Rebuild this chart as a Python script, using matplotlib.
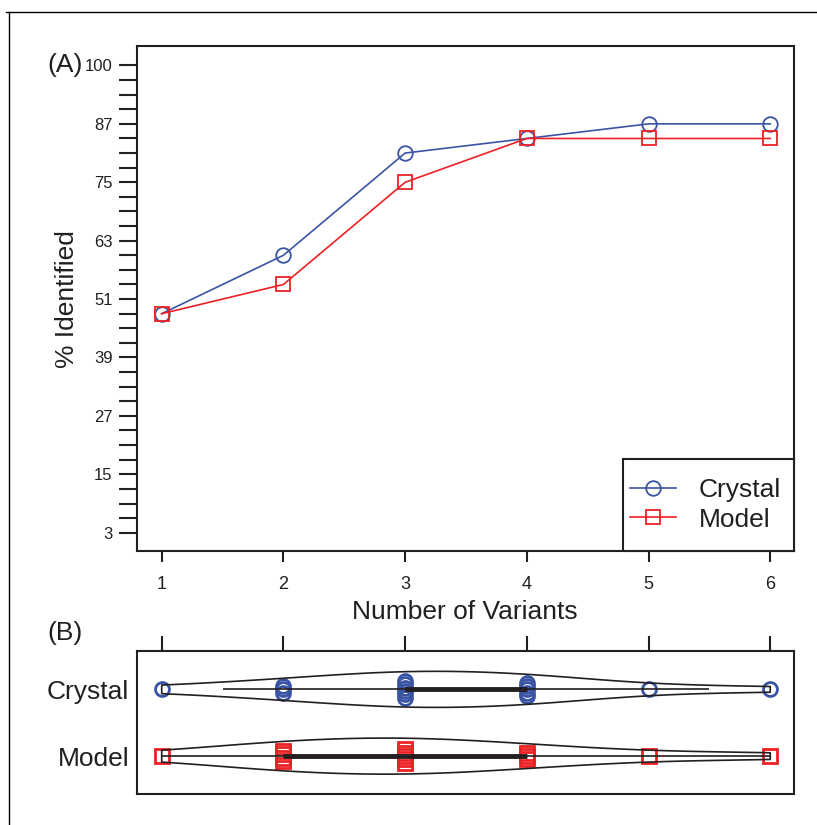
import numpy as np
import matplotlib
matplotlib.use("Agg")
import matplotlib.pyplot as plt
from matplotlib.lines import Line2D
from matplotlib.patches import Rectangle
from matplotlib.ticker import FixedLocator

plt.rcParams['font.family'] = ['Liberation Sans', 'DejaVu Sans']

# panel A : cumulative % identified
n_variants = [1, 2, 3, 4, 5, 6]
crystal_pct = [48, 60, 81, 84, 87, 87]
model_pct = [48, 54, 75, 84, 84, 84]
y_major = [3, 15, 27, 39, 51, 63, 75, 87, 99]
y_major_labels = ['3', '15', '27', '39', '51', '63', '75', '87', '100']

# panel B : variants needed per target
crystal_counts = [1, 3, 6, 5, 1, 1]
model_counts = [1, 4, 5, 3, 1, 1]
row_names = ['Model', 'Crystal']

BLUE = '#3a54a4'
RED = '#ed2024'
INK = '#231f20'

fig = plt.figure(figsize=(8.17, 8.25), dpi=100)

# 外枠
fig.add_artist(Line2D([6 / 817, 1], [1 - 11.7 / 825] * 2, color='black', lw=1.0,
                      transform=fig.transFigure))
fig.add_artist(Line2D([9 / 817] * 2, [0, 1 - 11.7 / 825], color='black', lw=1.0,
                      transform=fig.transFigure))

# ---- panel A
ax = fig.add_axes([0.16769, 0.33152, 0.80355, 0.61273])
ax.plot(n_variants, crystal_pct, color=BLUE, lw=1.2, marker='o', ms=10.5,
        mfc='none', mec=BLUE, mew=1.3, label='Crystal', zorder=3)
ax.plot(n_variants, model_pct, color=RED, lw=1.2, marker='s', ms=10.5,
        mfc='none', mec=RED, mew=1.3, label='Model', zorder=4)
ax.set_xlim(0.797, 6.191)
ax.set_ylim(-0.86, 103.0)
ax.set_xticks(n_variants)
ax.set_yticks(y_major)
ax.set_yticklabels(y_major_labels)
minor = [v for v in range(6, 99, 3) if v not in y_major]
ax.yaxis.set_minor_locator(FixedLocator(minor))
for s in ax.spines.values():
    s.set_linewidth(1.5)
    s.set_color(INK)
ax.tick_params(axis='y', which='both', length=13, width=1.5, color=INK,
               labelsize=12, pad=4.5, labelcolor=INK)
ax.tick_params(axis='x', length=8, width=1.5, color=INK, labelsize=13,
               pad=10, labelcolor=INK)
ax.set_ylabel('% Identified', fontsize=19, color=INK, labelpad=4)
ax.set_xlabel('Number of Variants', fontsize=19, color=INK, labelpad=5)

# 凡例の枠は自分で描く
ax.add_patch(Rectangle((0.740, 0), 0.26, 0.183, transform=ax.transAxes,
                       facecolor='white', edgecolor=INK, lw=1.5, zorder=5,
                       clip_on=False))
leg = ax.legend(loc='center left', bbox_to_anchor=(0.751, 0.092),
                borderaxespad=0, borderpad=0, frameon=False,
                fontsize=19, handlelength=1.74, handletextpad=0.85,
                labelspacing=0.2)
leg.set_zorder(6)
for t in leg.get_texts():
    t.set_color(INK)

fig.text(47 / 817, 1 - 65 / 825, '(A)', fontsize=19, color=INK,
         ha='left', va='center')
fig.text(47 / 817, 1 - 633 / 825, '(B)', fontsize=19, color=INK,
         ha='left', va='center')

# ---- panel B
bx = fig.add_axes([0.16769, 0.03721, 0.80355, 0.17406])
bx.set_xlim(0.797, 6.191)
bx.set_ylim(0.428, 2.579)

groups = [(1, model_counts, RED, 's'), (2, crystal_counts, BLUE, 'o')]
step = 0.05
for pos, counts, col, mk in groups:
    data = np.repeat(n_variants, counts).astype(float)
    # 点を縦に少しずらす
    for v, k in zip(n_variants, counts):
        offs = (np.arange(k) - (k - 1) / 2) * step
        bx.plot([v] * k, pos + offs, ls='none', marker=mk, ms=10,
                mfc='none', mec=col, mew=2.0, zorder=2)
    bw = 0.7 / np.std(data, ddof=1)
    parts = bx.violinplot([data], positions=[pos], orientation='horizontal',
                          widths=0.54, showextrema=False, bw_method=bw,
                          points=300)
    for body in parts['bodies']:
        body.set_facecolor('none')
        body.set_edgecolor(INK)
        body.set_linewidth(1.2)
        body.set_alpha(1)
        body.set_zorder(3)
    q1, q3 = np.percentile(data, [25, 75])
    iqr = q3 - q1
    lo = max(data.min(), q1 - 1.5 * iqr)
    hi = min(data.max(), q3 + 1.5 * iqr)
    bx.plot([lo, hi], [pos, pos], color=INK, lw=1.2, zorder=4,
            solid_capstyle='butt')
    bx.plot([q1, q3], [pos, pos], color=INK, lw=3.5, zorder=4,
            solid_capstyle='butt')

bx.set_yticks([1, 2])
bx.set_yticklabels(row_names)
bx.set_xticks(n_variants)
bx.tick_params(axis='y', length=0, labelsize=19, pad=5.5, labelcolor=INK)
bx.tick_params(axis='x', top=True, bottom=False, labeltop=False,
               labelbottom=False, length=10.5, width=1.5, color=INK)
for s in bx.spines.values():
    s.set_linewidth(1.5)
    s.set_color(INK)

fig.savefig('out.png', dpi=100)
